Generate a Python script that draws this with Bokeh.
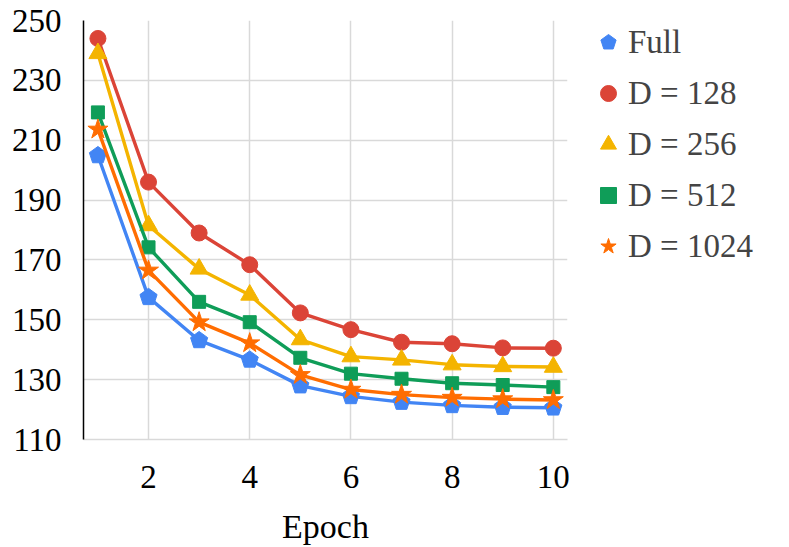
from bokeh.plotting import figure
from bokeh.models import ColumnDataSource, FixedTicker, Legend, LegendItem, Range1d
from bokeh.embed import file_html
from bokeh.resources import INLINE

epochs = [1, 2, 3, 4, 5, 6, 7, 8, 9, 10]
full = [204.9, 157.5, 143.1, 136.6, 128.0, 124.4, 122.5, 121.4, 120.8, 120.6]
d128 = [244.0, 196.0, 179.0, 168.4, 152.3, 146.7, 142.5, 142.0, 140.6, 140.5]
d256 = [239.0, 181.5, 167.0, 158.3, 143.4, 137.7, 136.6, 135.0, 134.4, 134.2]
d512 = [219.3, 174.2, 156.0, 149.2, 137.3, 132.0, 130.3, 128.8, 128.2, 127.5]
d1024 = [213.6, 166.5, 149.2, 142.2, 131.6, 126.7, 125.0, 124.0, 123.5, 123.2]
y_ticks = [110, 130, 150, 170, 190, 210, 230, 250]
x_ticks = [2, 4, 6, 8, 10]
labels = ["Full", "D = 128", "D = 256", "D = 512", "D = 1024"]
colors = ["#4285F4", "#DB4437", "#F4B400", "#0F9D58", "#FF6D01"]

FONT = "Liberation Serif"

p = figure(frame_width=484, frame_height=419, output_backend="svg", toolbar_location=None,
           x_range=Range1d(0.715, 10.28), y_range=Range1d(110, 250),
           min_border_left=83, min_border_top=20, min_border_right=10, min_border_bottom=4)
p.outline_line_color = None
p.background_fill_color = "white"

p.xgrid.ticker = FixedTicker(ticks=x_ticks)
p.ygrid.ticker = FixedTicker(ticks=y_ticks)
p.grid.grid_line_color = "#d9d9d9"
p.grid.grid_line_width = 1.5

p.xaxis.ticker = FixedTicker(ticks=x_ticks)
p.yaxis.ticker = FixedTicker(ticks=y_ticks)
for ax in (p.xaxis[0], p.yaxis[0]):
    ax.major_tick_line_color = None
    ax.minor_tick_line_color = None
    ax.major_label_text_font = FONT
    ax.major_label_text_font_size = "33px"
    ax.major_label_text_color = "black"
p.yaxis.axis_line_color = "black"
p.yaxis.axis_line_width = 1.5
p.xaxis.axis_line_color = "#d9d9d9"
p.xaxis.axis_line_width = 1.5
p.yaxis.major_label_standoff = 16
p.xaxis.major_label_standoff = 20
p.xaxis.axis_label = "Epoch"
p.xaxis.axis_label_text_font = FONT
p.xaxis.axis_label_text_font_size = "34px"
p.xaxis.axis_label_text_font_style = "normal"
p.xaxis.axis_label_text_color = "black"
p.xaxis.axis_label_standoff = 17

series = [full, d128, d256, d512, d1024]
items = []
for i, (vals, col, lab) in enumerate(zip(series, colors, labels)):
    src = ColumnDataSource(dict(x=epochs, y=vals))
    p.line("x", "y", source=src, line_color=col, line_width=3.4)
    if i == 0:
        r = p.ngon("x", "y", radius=9, radius_units="screen", n=5, source=src,
                   fill_color=col, line_color=col)
    elif i == 1:
        r = p.scatter("x", "y", source=src, marker="circle", size=16, fill_color=col, line_color=col)
    elif i == 2:
        r = p.scatter("x", "y", source=src, marker="triangle", size=18, fill_color=col, line_color=col)
    elif i == 3:
        r = p.scatter("x", "y", source=src, marker="square", size=13, fill_color=col, line_color=col)
    else:
        r = p.scatter("x", "y", source=src, marker="star", size=21, fill_color=col, line_color=col)
    items.append(LegendItem(label=lab, renderers=[r]))

legend = Legend(items=items, location=(21, 173), border_line_color=None,
                background_fill_alpha=0, glyph_width=40, glyph_height=40,
                label_height=40, spacing=11, padding=10, margin=0, label_standoff=0,
                label_text_font=FONT, label_text_font_size="33px")
p.add_layout(legend, "right")

open("out.html", "w").write(file_html(p, INLINE))
